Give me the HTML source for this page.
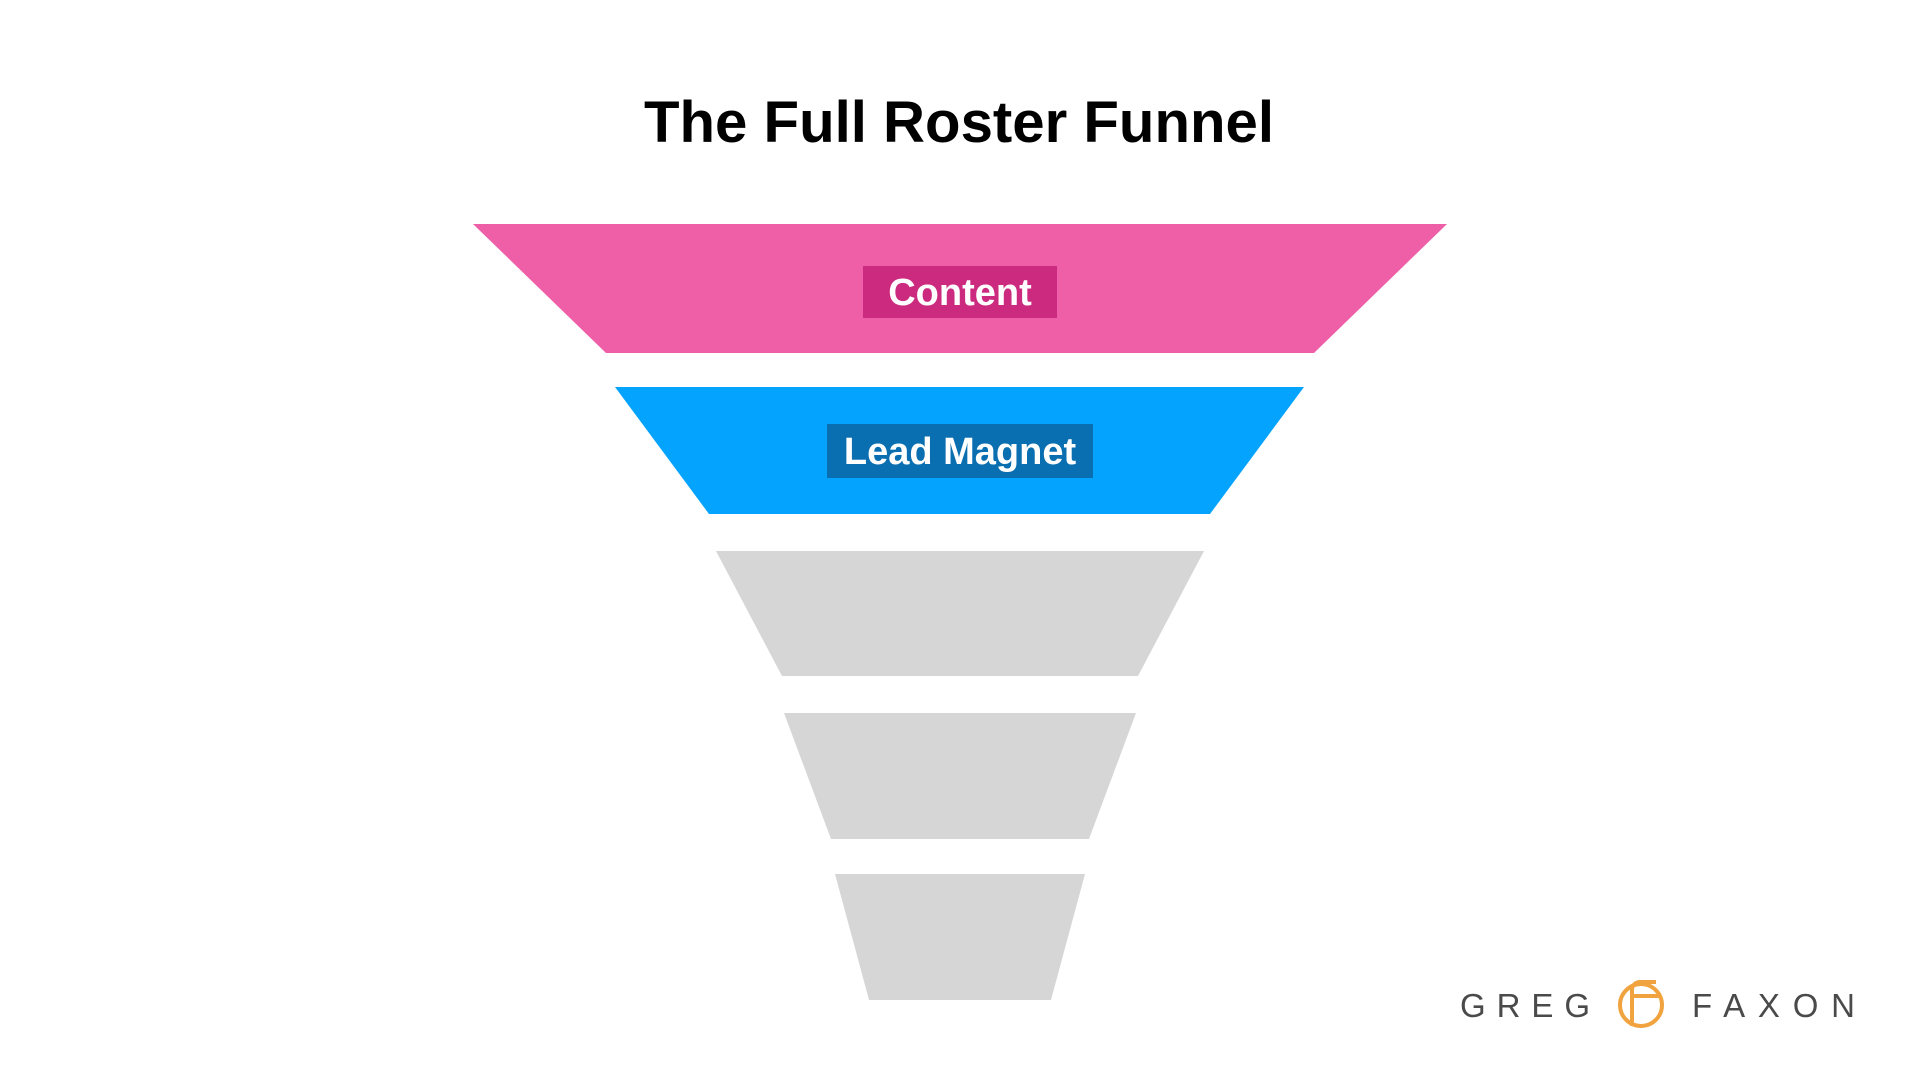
<!DOCTYPE html>
<html><head><meta charset="utf-8"><style>
html,body{margin:0;padding:0;background:#fff;}
svg{display:block;}
</style></head><body>
<svg width="1920" height="1080" viewBox="0 0 1920 1080" xmlns="http://www.w3.org/2000/svg">
<rect width="1920" height="1080" fill="#fff"/>
<text x="959" y="142" text-anchor="middle" font-family="Liberation Sans, sans-serif" font-weight="bold" font-size="58" fill="#000" textLength="630" lengthAdjust="spacingAndGlyphs">The Full Roster Funnel</text>
<polygon points="473,224 1447,224 1314,353 606,353" fill="#ef5fa7"/>
<rect x="863" y="266" width="194" height="52" fill="#cc2a7f"/>
<text x="960" y="305" text-anchor="middle" font-family="Liberation Sans, sans-serif" font-weight="bold" font-size="38" fill="#fff">Content</text>
<polygon points="615,387 1304,387 1210,514 709,514" fill="#03a3fe"/>
<rect x="827" y="424" width="266" height="54" fill="#0a6fb0"/>
<text x="960" y="464" text-anchor="middle" font-family="Liberation Sans, sans-serif" font-weight="bold" font-size="38" fill="#fff">Lead Magnet</text>
<polygon points="716,551 1204,551 1138,676 782,676" fill="#d6d6d6"/>
<polygon points="784,713 1136,713 1089,839 831,839" fill="#d6d6d6"/>
<polygon points="835,874 1085,874 1051,1000 869,1000" fill="#d6d6d6"/>
<text x="1460" y="1017" font-family="Liberation Sans, sans-serif" font-size="33" fill="#4a4a4a" textLength="130" lengthAdjust="spacing">GREG</text>
<text x="1692" y="1017" font-family="Liberation Sans, sans-serif" font-size="33" fill="#4a4a4a" textLength="163" lengthAdjust="spacing">FAXON</text>
<g fill="none" stroke="#f0a33e" stroke-width="4">
<circle cx="1641" cy="1005" r="21"/>
<path d="M1632,1026 V996 H1660 M1632,996 V990 a8,8 0 0 1 8,-8 H1656"/>
</g>
</svg>
</body></html>
